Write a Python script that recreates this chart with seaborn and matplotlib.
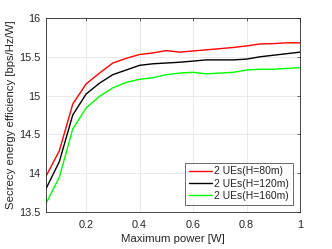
import numpy as np
import pandas as pd
import matplotlib
matplotlib.use("Agg")
import matplotlib.pyplot as plt
import seaborn as sns

power = [0.05, 0.1, 0.15, 0.2, 0.25, 0.3, 0.35, 0.4, 0.45, 0.5, 0.55, 0.6, 0.65, 0.7, 0.75, 0.8, 0.85, 0.9, 0.95, 1.0]
see_h80 = [13.96, 14.29, 14.89, 15.15, 15.29, 15.42, 15.48, 15.53, 15.55, 15.58, 15.56, 15.575, 15.59, 15.605, 15.62, 15.64, 15.665, 15.67, 15.68, 15.68]
see_h120 = [13.80, 14.15, 14.75, 15.02, 15.16, 15.27, 15.33, 15.39, 15.41, 15.42, 15.43, 15.445, 15.46, 15.46, 15.46, 15.47, 15.50, 15.52, 15.54, 15.56]
see_h160 = [13.61, 13.95, 14.57, 14.84, 14.99, 15.10, 15.17, 15.21, 15.23, 15.27, 15.29, 15.30, 15.28, 15.29, 15.30, 15.33, 15.34, 15.34, 15.35, 15.36]
labels = ["2 UEs(H=80m)", "2 UEs(H=120m)", "2 UEs(H=160m)"]
colors = ["#ff0000", "#000000", "#00ff00"]
xticks = [0.2, 0.4, 0.6, 0.8, 1.0]
yticks = [13.5, 14, 14.5, 15, 15.5, 16]

df = pd.concat([
    pd.DataFrame({"power": power, "see": s, "series": lab})
    for s, lab in zip([see_h80, see_h120, see_h160], labels)
])

sns.set_theme(style="white")
plt.rcParams['font.family'] = ['Liberation Sans', 'DejaVu Sans']

fig = plt.figure(figsize=(3.32, 2.49), dpi=100)
ax = fig.add_axes([46/332, 1-212/249, (300-46)/332, (212-18)/249])
sns.lineplot(data=df, x="power", y="see", hue="series", palette=dict(zip(labels, colors)),
             linewidth=1.0, ax=ax, legend=True)

ax.set_xlim(0.05, 1.0)
ax.set_ylim(13.5, 16)
ax.set_xticks(xticks)
ax.set_xticklabels(["0.2", "0.4", "0.6", "0.8", "1"])
ax.set_yticks(yticks)
ax.set_yticklabels(["13.5", "14", "14.5", "15", "15.5", "16"])
ax.grid(True, color="#e6e6e6", linewidth=0.6)
ax.set_axisbelow(True)
for sp in ax.spines.values():
    sp.set_color("#262626")
    sp.set_linewidth(0.6)
ax.tick_params(axis="both", direction="in", length=2.5, width=0.5, colors="#262626",
               labelsize=7.8, top=True, right=True)
ax.tick_params(axis="x", pad=5.5)
ax.tick_params(axis="y", pad=4)
ax.set_xlabel("Maximum power [W]", fontsize=8.2, color="#262626", labelpad=3)
ax.set_ylabel("Secrecy energy efficiency [bps/Hz/W]", fontsize=8.2, color="#262626", labelpad=2.5)

leg = ax.legend(loc="lower right", fontsize=7.5, frameon=True, fancybox=False,
                edgecolor="#262626", handlelength=2.2, handletextpad=0.25,
                borderpad=0.35, labelspacing=0.22, borderaxespad=0.7)
leg.get_frame().set_linewidth(0.6)

fig.savefig("out.png", dpi=100)
